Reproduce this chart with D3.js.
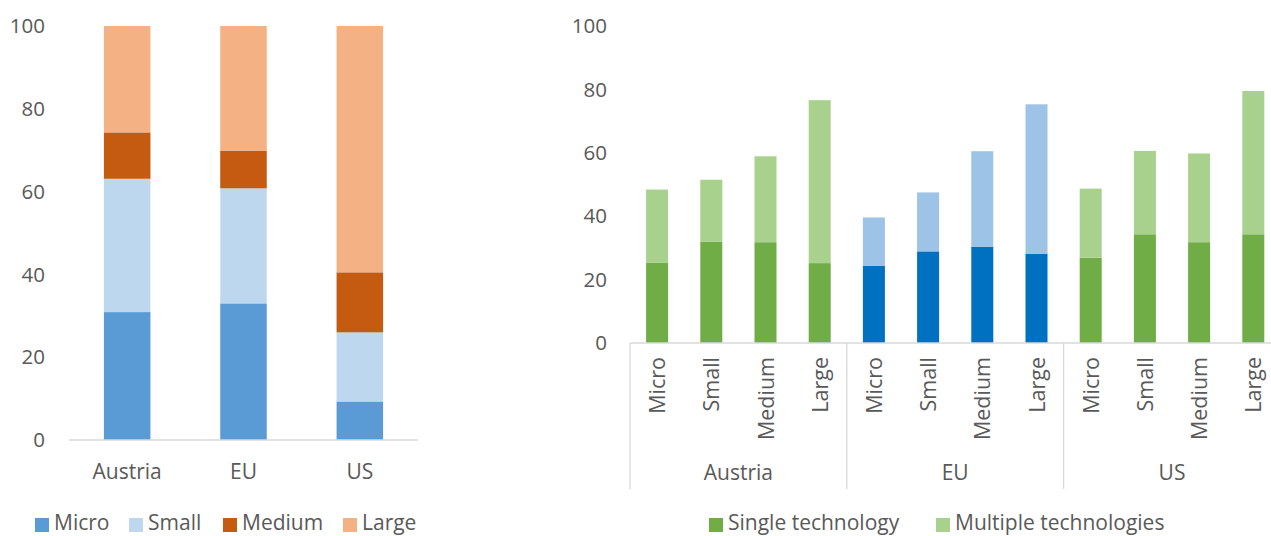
<!DOCTYPE html>
<html>
<head>
<meta charset="utf-8">
<script src="https://cdn.jsdelivr.net/npm/d3@7"></script>
<style>
  body { margin: 0; background: #fff; }
  svg text { font-family: "Open Sans", sans-serif; fill: #595959; }
</style>
</head>
<body>
<svg id="chart" width="1271" height="536"></svg>
<script>
// ---- data: left chart (share by firm size, %)
var countries = ["Austria", "EU", "US"];
var sizes = ["Micro", "Small", "Medium", "Large"];
var micro  = [30.9, 33.0, 9.3];
var small  = [32.2, 27.8, 16.7];
var medium = [11.2, 9.1, 14.5];
var large  = [25.7, 30.1, 59.5];
var leftTicks = [0, 20, 40, 60, 80, 100];

// ---- data: right chart (technology adoption by size, %)
var single   = [25.4, 31.9, 31.8, 25.2,  24.4, 28.9, 30.4, 28.2,  26.9, 34.3, 31.8, 34.3];
var multiple = [23.0, 19.6, 27.1, 51.4,  15.2, 18.6, 30.1, 47.1,  21.8, 26.3, 28.0, 45.2];
var techSeries = ["Single technology", "Multiple technologies"];

var sizeColors = {Micro: "#5B9BD5", Small: "#BDD7EE", Medium: "#C55A11", Large: "#F4B183"};
var greenCols = ["#70AD47", "#A9D18E"];
var blueCols = ["#0070C0", "#9DC3E6"];

var fs = "21px";
var svg = d3.select("#chart");

// ================= LEFT CHART =================
var L = {left: 69, right: 418, top: 26, bottom: 440};

var xL = d3.scaleBand()
    .domain(countries)
    .range([L.left, L.right])
    .paddingInner(0.6)
    .paddingOuter(0.3);

var yL = d3.scaleLinear()
    .domain([0, 100])
    .range([L.bottom, L.top]);

var leftRows = countries.map(function(c, i) {
  return {country: c, Micro: micro[i], Small: small[i], Medium: medium[i], Large: large[i]};
});
var stackL = d3.stack().keys(sizes)(leftRows);

var gL = svg.append("g");
gL.selectAll("g.layer")
  .data(stackL)
  .enter().append("g")
    .attr("fill", function(d) { return sizeColors[d.key]; })
  .selectAll("rect")
  .data(function(d) { return d; })
  .enter().append("rect")
    .attr("x", function(d) { return xL(d.data.country); })
    .attr("y", function(d) { return yL(d[1]); })
    .attr("width", xL.bandwidth())
    .attr("height", function(d) { return yL(d[0]) - yL(d[1]); });

// baseline
gL.append("line")
  .attr("x1", L.left).attr("x2", L.right)
  .attr("y1", yL(0)).attr("y2", yL(0))
  .attr("stroke", "#d9d9d9").attr("stroke-width", 1.3);

// y labels
gL.selectAll("text.ytick")
  .data(leftTicks)
  .enter().append("text")
    .attr("x", 45)
    .attr("y", function(d) { return yL(d); })
    .attr("dy", "0.35em")
    .attr("text-anchor", "end")
    .style("font-size", "20.5px")
    .text(function(d) { return d; });

// category labels
gL.selectAll("text.xcat")
  .data(countries)
  .enter().append("text")
    .attr("x", function(d) { return xL(d) + xL.bandwidth() / 2; })
    .attr("y", 479)
    .attr("text-anchor", "middle")
    .style("font-size", fs)
    .text(function(d) { return d; });

// legend
var legL = [35, 129, 223, 343];
sizes.forEach(function(s, i) {
  gL.append("rect")
    .attr("x", legL[i]).attr("y", 518)
    .attr("width", 14).attr("height", 14)
    .attr("fill", sizeColors[s]);
  gL.append("text")
    .attr("x", legL[i] + 19).attr("y", 530)
    .style("font-size", fs)
    .text(s);
});

// ================= RIGHT CHART =================
var R = {left: 630, top: 26, bottom: 343};
var step = 54.2;
var barKeys = [];
countries.forEach(function(c) {
  sizes.forEach(function(s) { barKeys.push(c + "|" + s); });
});

var xR = d3.scaleBand()
    .domain(barKeys)
    .range([R.left, R.left + step * barKeys.length])
    .paddingInner(0.594)
    .paddingOuter(0.297);

var yR = d3.scaleLinear()
    .domain([0, 100])
    .range([R.bottom, R.top]);

var rightRows = barKeys.map(function(k, i) {
  return {key: k, single: single[i], multiple: multiple[i]};
});
var stackR = d3.stack().keys(["single", "multiple"])(rightRows);

var gR = svg.append("g");
gR.selectAll("g.layer")
  .data(stackR)
  .enter().append("g")
  .selectAll("rect")
  .data(function(d, li) { return d.map(function(p) { p.layer = li; return p; }); })
  .enter().append("rect")
    .attr("x", function(d) { return xR(d.data.key); })
    .attr("y", function(d) { return yR(d[1]); })
    .attr("width", xR.bandwidth())
    .attr("height", function(d) { return yR(d[0]) - yR(d[1]); })
    .attr("fill", function(d) {
      var cols = d.data.key.indexOf("EU|") === 0 ? blueCols : greenCols;
      return cols[d.layer];
    });

// axis line + group separators
gR.append("line")
  .attr("x1", R.left).attr("x2", R.left + step * barKeys.length)
  .attr("y1", yR(0)).attr("y2", yR(0))
  .attr("stroke", "#d9d9d9").attr("stroke-width", 1.3);

var groupEdges = d3.range(countries.length + 1).map(function(i) { return R.left + i * step * sizes.length; });
gR.selectAll("line.sep")
  .data(groupEdges)
  .enter().append("line")
    .attr("x1", function(d) { return d; }).attr("x2", function(d) { return d; })
    .attr("y1", yR(0)).attr("y2", 489)
    .attr("stroke", "#d9d9d9").attr("stroke-width", 1.3);

// y labels
gR.selectAll("text.ytick")
  .data(leftTicks)
  .enter().append("text")
    .attr("x", 607)
    .attr("y", function(d) { return yR(d); })
    .attr("dy", "0.35em")
    .attr("text-anchor", "end")
    .style("font-size", "20.5px")
    .text(function(d) { return d; });

// rotated size labels
gR.selectAll("text.size")
  .data(barKeys)
  .enter().append("text")
    .attr("transform", function(d) {
      return "translate(" + (xR(d) + xR.bandwidth() / 2 + 8) + ",357) rotate(-90)";
    })
    .attr("text-anchor", "end")
    .style("font-size", "21.5px")
    .text(function(d) { return d.split("|")[1]; });

// group labels
gR.selectAll("text.group")
  .data(countries)
  .enter().append("text")
    .attr("x", function(d, i) { return (groupEdges[i] + groupEdges[i + 1]) / 2; })
    .attr("y", 480)
    .attr("text-anchor", "middle")
    .style("font-size", fs)
    .text(function(d) { return d; });

// legend
var legR = [709, 936];
techSeries.forEach(function(s, i) {
  gR.append("rect")
    .attr("x", legR[i]).attr("y", 518)
    .attr("width", 14).attr("height", 14)
    .attr("fill", greenCols[i]);
  gR.append("text")
    .attr("x", legR[i] + 19).attr("y", 530)
    .style("font-size", fs)
    .text(s);
});
</script>
</body>
</html>
